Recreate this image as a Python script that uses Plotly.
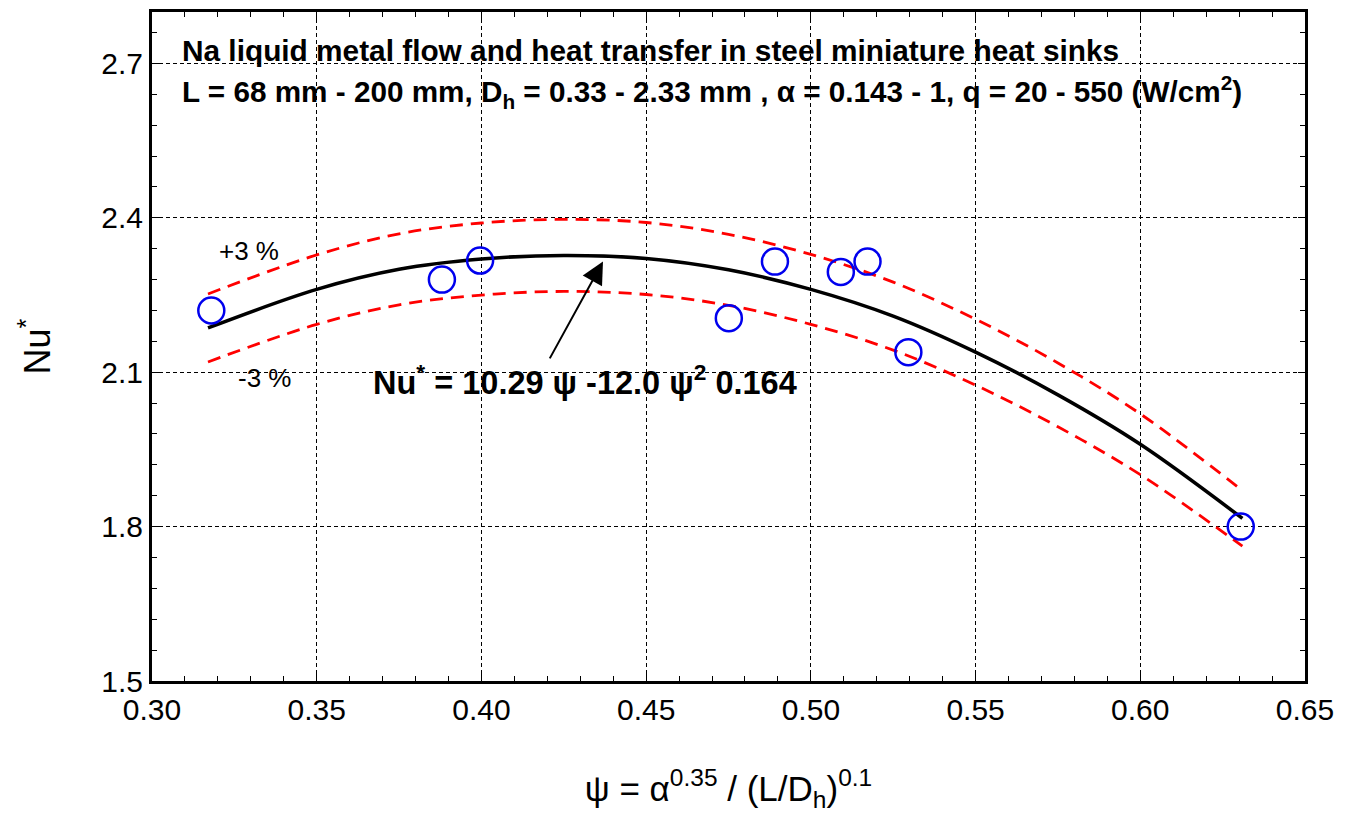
import plotly.graph_objects as go

# measured points
psi_pts = [0.318, 0.388, 0.3996, 0.4751, 0.4891, 0.5091, 0.5172, 0.5296, 0.6305]
nu_pts = [2.220, 2.280, 2.317, 2.205, 2.315, 2.295, 2.315, 2.139, 1.800]

# fitted correlation
psi_fit = [0.317, 0.35, 0.375, 0.40, 0.425, 0.45, 0.475, 0.50, 0.525, 0.55, 0.575, 0.60, 0.631]
nu_fit = [2.186, 2.261, 2.300, 2.320, 2.327, 2.321, 2.299, 2.261, 2.209, 2.139, 2.056, 1.960, 1.816]
nu_up = [2.252, 2.328, 2.369, 2.390, 2.397, 2.391, 2.368, 2.329, 2.275, 2.203, 2.118, 2.019, 1.870]
nu_lo = [2.120, 2.193, 2.231, 2.250, 2.257, 2.251, 2.230, 2.193, 2.143, 2.075, 1.994, 1.901, 1.762]

x_ticks = [0.30, 0.35, 0.40, 0.45, 0.50, 0.55, 0.60, 0.65]
y_ticks = [1.5, 1.8, 2.1, 2.4, 2.7]

fnt = "Arial, Liberation Sans"

fig = go.Figure()
fig.add_trace(go.Scatter(x=psi_fit, y=nu_up, mode="lines", line=dict(color="#ff0000", width=2.8, dash="13px,8px", shape="spline"), showlegend=False))
fig.add_trace(go.Scatter(x=psi_fit, y=nu_lo, mode="lines", line=dict(color="#ff0000", width=2.8, dash="13px,8px", shape="spline"), showlegend=False))
fig.add_trace(go.Scatter(x=psi_fit, y=nu_fit, mode="lines", line=dict(color="black", width=3.5, shape="spline"), showlegend=False))
fig.add_trace(go.Scatter(x=psi_pts, y=nu_pts, mode="markers",
                         marker=dict(symbol="circle-open", size=26, color="#0000ee", line=dict(width=2.5, color="#0000ee")),
                         showlegend=False))

axis_common = dict(showline=True, linecolor="black", linewidth=3, mirror="allticks",
                   ticks="inside", ticklen=7, tickwidth=1, tickcolor="black",
                   showgrid=True, gridcolor="black", gridwidth=1, griddash="4px,3px",
                   zeroline=False, tickfont=dict(family=fnt, size=30, color="black"))

fig.update_xaxes(range=[0.30, 0.65], tickvals=x_ticks, ticktext=[f"{v:.2f}" for v in x_ticks],
                 minor=dict(dtick=0.01, tick0=0.30, ticks="inside", ticklen=5, tickcolor="black", showgrid=False),
                 title=dict(text="ψ = α<sup>0.35</sup> / (L/D<sub>h</sub>)<sup>0.1</sup>",
                            font=dict(family=fnt, size=35, color="black"), standoff=52),
                 **axis_common)
fig.update_yaxes(range=[1.5, 2.8], tickvals=y_ticks, ticktext=[f"{v:.1f}" for v in y_ticks],
                 minor=dict(dtick=0.06, tick0=1.5, ticks="inside", ticklen=5, tickcolor="black", showgrid=False),
                 title=dict(text="Nu<sup>*</sup>", font=dict(family=fnt, size=36, color="black"), standoff=40),
                 **axis_common)

fig.add_annotation(x=0.3085, y=2.7246, xref="x", yref="y", xanchor="left", yanchor="middle", showarrow=False,
                   text="<b>Na liquid metal flow and heat transfer in steel miniature heat sinks</b>",
                   font=dict(family=fnt, size=29.8, color="black"))
fig.add_annotation(x=0.3085, y=2.6455, xref="x", yref="y", xanchor="left", yanchor="middle", showarrow=False,
                   text="<b>L = 68 mm - 200 mm, D<sub>h</sub> = 0.33 - 2.33 mm , α = 0.143 - 1, q = 20 - 550 (W/cm<sup>2</sup>)</b>",
                   font=dict(family=fnt, size=29.7, color="black"))
fig.add_annotation(x=0.3197, y=2.336, xref="x", yref="y", xanchor="left", yanchor="middle", showarrow=False,
                   text="+3 %", font=dict(family=fnt, size=26, color="black"))
fig.add_annotation(x=0.3255, y=2.089, xref="x", yref="y", xanchor="left", yanchor="middle", showarrow=False,
                   text="-3 %", font=dict(family=fnt, size=26, color="black"))
fig.add_annotation(x=0.3665, y=2.085, xref="x", yref="y", xanchor="left", yanchor="middle", showarrow=False,
                   text="<b>Nu<sup>*</sup> = 10.29 ψ -12.0 ψ<sup>2</sup> 0.164</b>",
                   font=dict(family=fnt, size=32.5, color="black"))
fig.add_annotation(x=0.4369, y=2.315, ax=0.4205, ay=2.124, xref="x", yref="y", axref="x", ayref="y",
                   showarrow=True, arrowhead=2, arrowsize=2.2, arrowwidth=2, arrowcolor="black", text="")

fig.update_layout(width=1343, height=809, margin=dict(l=144, r=46, t=1, b=136),
                  plot_bgcolor="white", paper_bgcolor="white")
fig.write_html("out.html")
